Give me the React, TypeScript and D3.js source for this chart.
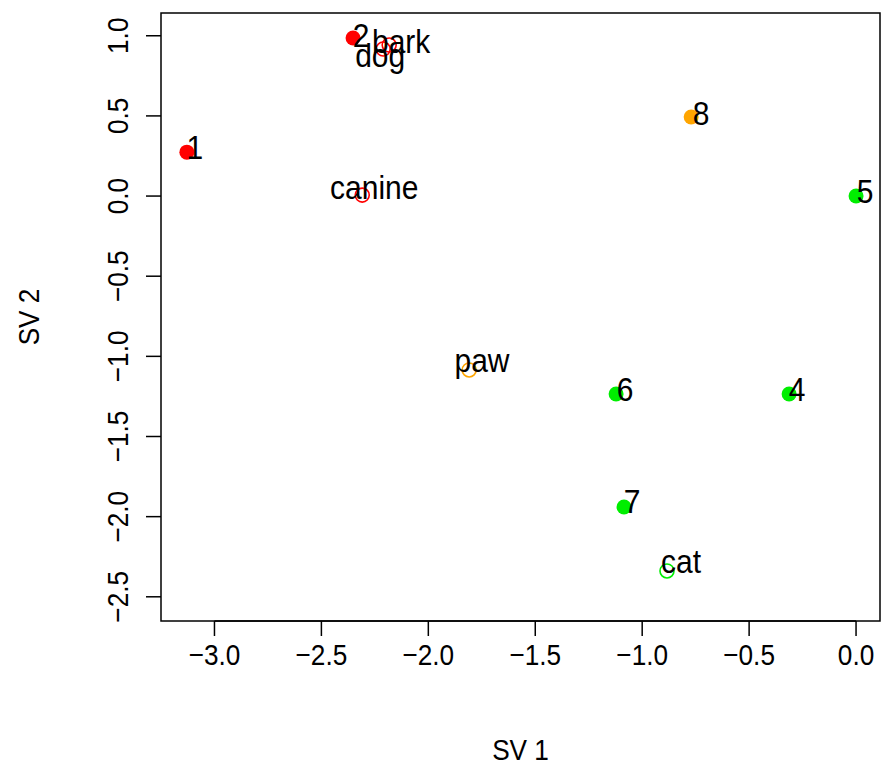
import React from "react";
import * as d3 from "d3";

const labels = ["1", "2", "dog", "bark", "canine", "8", "5", "paw", "6", "4", "7", "cat"];
const sv1 = [-3.129, -2.352, -2.211, -2.183, -2.309, -0.771, 0.0, -1.809, -1.122, -0.313, -1.085, -0.884];
const sv2 = [0.274, 0.986, 0.917, 0.942, 0.006, 0.493, 0.0, -1.085, -1.235, -1.235, -1.94, -2.339];
const labelX = [-3.092, -2.314, -2.225, -2.127, -2.253, -0.725, 0.042, -1.749, -1.08, -0.276, -1.047, -0.818];
const labelY = [0.306, 1.004, 0.88, 0.967, 0.055, 0.518, 0.031, -1.024, -1.204, -1.204, -1.903, -2.278];
const groups = ["red", "red", "red", "red", "red", "orange", "green", "orange", "green", "green", "green", "green"];
const filled = [true, true, false, false, false, true, true, false, true, true, true, false];
const xTicks = [-3.0, -2.5, -2.0, -1.5, -1.0, -0.5, 0.0];
const yTicks = [-2.5, -2.0, -1.5, -1.0, -0.5, 0.0, 0.5, 1.0];

const colorMap: Record<string, string> = { red: "#FF0000", orange: "#FFA500", green: "#00EE00" };

export default function App() {
  const W = 883, H = 769;
  const left = 161, right = 880, top = 13, bottom = 621;
  const x = d3.scaleLinear().domain([-3.25, 0.112]).range([left, right]);
  const y = d3.scaleLinear().domain([-2.651, 1.142]).range([bottom, top]);
  const font = "'Liberation Sans', Arial, Helvetica, sans-serif";
  const fmt = (v: number) => (v < 0 ? "\u2212" : "") + Math.abs(v).toFixed(1);
  const sy = 1.12;
  return (
    <svg width={W} height={H} style={{ position: "absolute", left: 0, top: 0, background: "#fff" }} fontFamily={font}>
      <rect x={left} y={top} width={right - left} height={bottom - top} fill="none" stroke="#000" strokeWidth={1.5} />
      {xTicks.map((t) => (
        <g key={"x" + t}>
          <line x1={x(t)} x2={x(t)} y1={bottom} y2={bottom + 15} stroke="#000" strokeWidth={1.5} />
          <text transform={`translate(${x(t)},${bottom + 44}) scale(0.97,${sy})`} fontSize={27} textAnchor="middle">{fmt(t)}</text>
        </g>
      ))}
      <line x1={x(-3)} x2={x(0)} y1={bottom} y2={bottom} stroke="#000" strokeWidth={1.5} />
      {yTicks.map((t) => (
        <g key={"y" + t}>
          <line x1={left} x2={left - 15} y1={y(t)} y2={y(t)} stroke="#000" strokeWidth={1.5} />
          <text transform={`translate(${left - 33},${y(t)}) rotate(-90) scale(0.97,${sy})`} fontSize={27} textAnchor="middle">{fmt(t)}</text>
        </g>
      ))}
      <text transform={`translate(${(left + right) / 2},760) scale(0.97,${sy})`} fontSize={27} textAnchor="middle">SV 1</text>
      <text transform={`translate(39,${(top + bottom) / 2}) rotate(-90) scale(0.97,${sy})`} fontSize={27} textAnchor="middle">SV 2</text>
      {labels.map((l, i) => (
        <circle key={"p" + i} cx={x(sv1[i])} cy={y(sv2[i])} r={filled[i] ? 7.5 : 7}
          fill={filled[i] ? colorMap[groups[i]] : "none"} stroke={colorMap[groups[i]]} strokeWidth={filled[i] ? 0 : 1.6} />
      ))}
      {labels.map((l, i) => (
        <text key={"l" + i} transform={`translate(${x(labelX[i])},${y(labelY[i])}) scale(1,1.08)`} dy="0.36em" fontSize={30} textAnchor="middle">{l}</text>
      ))}
    </svg>
  );
}
